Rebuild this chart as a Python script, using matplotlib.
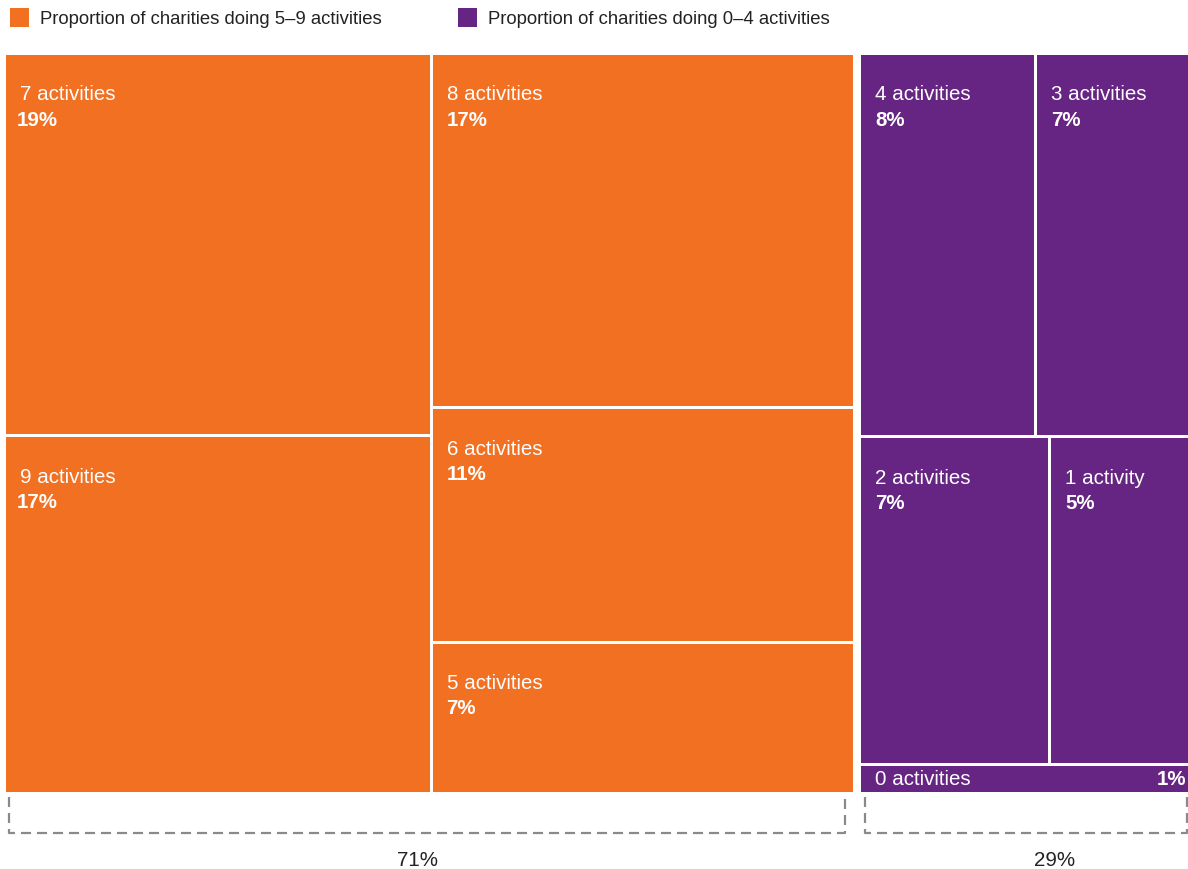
import matplotlib
matplotlib.use("Agg")
import matplotlib.pyplot as plt
from matplotlib.patches import Rectangle

plt.rcParams['font.family'] = ['Liberation Sans', 'DejaVu Sans']

# ---- data ----
group_names = ["Proportion of charities doing 5\u20139 activities",
               "Proportion of charities doing 0\u20134 activities"]
group_colors = ["#F17022", "#662582"]
group_labels = ["71%", "29%"]

# orange group: columns of stacked cells
orange_cols = [["7 activities", "9 activities"],
               ["8 activities", "6 activities", "5 activities"]]
orange_vals = [[18.8, 17.6], [17.3, 11.4, 7.3]]
orange_pcts = [["19%", "17%"], ["17%", "11%", "7%"]]

# purple group: rows of side-by-side cells
purple_rows = [["4 activities", "3 activities"],
               ["2 activities", "1 activity"],
               ["0 activities"]]
purple_vals = [[7.7, 6.7], [7.1, 5.2], [1.0]]
purple_pcts = [["8%", "7%"], ["7%", "5%"], ["1%"]]

# ---- layout ----
W, H = 1188, 869
fig = plt.figure(figsize=(W / 100, H / 100), dpi=100)
ax = fig.add_axes([0, 0, 1, 1])
ax.set_xlim(0, W)
ax.set_ylim(H, 0)
ax.axis('off')

X0, X1, Y0, Y1 = 6, 1188, 55, 792
GGAP = 8
GAP = 3

o_tot = sum(sum(c) for c in orange_vals)
p_tot = sum(sum(r) for r in purple_vals)
avail = (X1 - X0) - GGAP
wo = avail * o_tot / (o_tot + p_tot) - 2
wp = avail - wo
ox0, ox1 = X0, X0 + wo
px0, px1 = ox1 + GGAP, X1

name_fs = 14.8
pct_fs = 14.8


def cell(x, y, w, h, color, name, pct, small=False, pdx=13):
    ax.add_patch(Rectangle((x, y), w, h, facecolor=color, edgecolor='none'))
    if small:
        ax.text(x + 14, y + h / 2 + 1, name, color='white', fontsize=name_fs,
                va='center', ha='left')
        ax.text(x + w - 2, y + h / 2 + 1, pct, color='white', fontsize=pct_fs,
                va='center', ha='right', fontweight='bold')
    else:
        ax.text(x + 14, y + 40, name, color='white', fontsize=name_fs,
                va='center', ha='left')
        ax.text(x + pdx, y + 65, pct, color='white', fontsize=pct_fs,
                va='center', ha='left', fontweight='bold')


# orange columns
ncol = len(orange_cols)
cw_avail = wo - GAP * (ncol - 1)
cx = ox0
for ci, (names, vals, pcts) in enumerate(zip(orange_cols, orange_vals, orange_pcts)):
    cw = cw_avail * sum(vals) / o_tot
    ch_avail = (Y1 - Y0) - GAP * (len(vals) - 1)
    cy = Y0
    for n, v, p in zip(names, vals, pcts):
        ch = ch_avail * v / sum(vals)
        cell(cx, cy, cw, ch, group_colors[0], n, p, pdx=11 if ci == 0 else 13)
        cy += ch + GAP
    cx += cw + GAP

# purple rows
nrow = len(purple_rows)
rh_avail = (Y1 - Y0) - GAP * (nrow - 1)
ry = Y0
for names, vals, pcts in zip(purple_rows, purple_vals, purple_pcts):
    rh = rh_avail * sum(vals) / p_tot
    rw_avail = wp - GAP * (len(vals) - 1)
    rx = px0
    for n, v, p in zip(names, vals, pcts):
        rw = rw_avail * v / sum(vals)
        cell(rx, ry, rw, rh, group_colors[1], n, p, small=(len(vals) == 1), pdx=14)
        rx += rw + GAP
    ry += rh + GAP

# brackets
bcol = '#8a8a8a'
by0, by1 = 797, 833
for (bx0, bx1), lab, tx in [((ox0 + 3, ox1 - 8), group_labels[0], 418),
                            ((px0 + 4, px1 - 1), group_labels[1], 1055)]:
    ax.plot([bx0, bx0, bx1, bx1], [by0, by1, by1, by0], color=bcol, lw=1.6,
            dashes=(4.5, 2.7), solid_capstyle='butt')
    ax.text(tx, 860, lab, fontsize=14.8, ha='center', va='center', color='#222222')

# legend
for i, (nm, col, lx) in enumerate(zip(group_names, group_colors, [10, 458])):
    ax.add_patch(Rectangle((lx, 8), 19, 19, facecolor=col, edgecolor='none'))
    ax.text(lx + 30, 20, nm, fontsize=13.3, ha='left', va='center', color='#222222')

fig.savefig("out.png", dpi=100)
